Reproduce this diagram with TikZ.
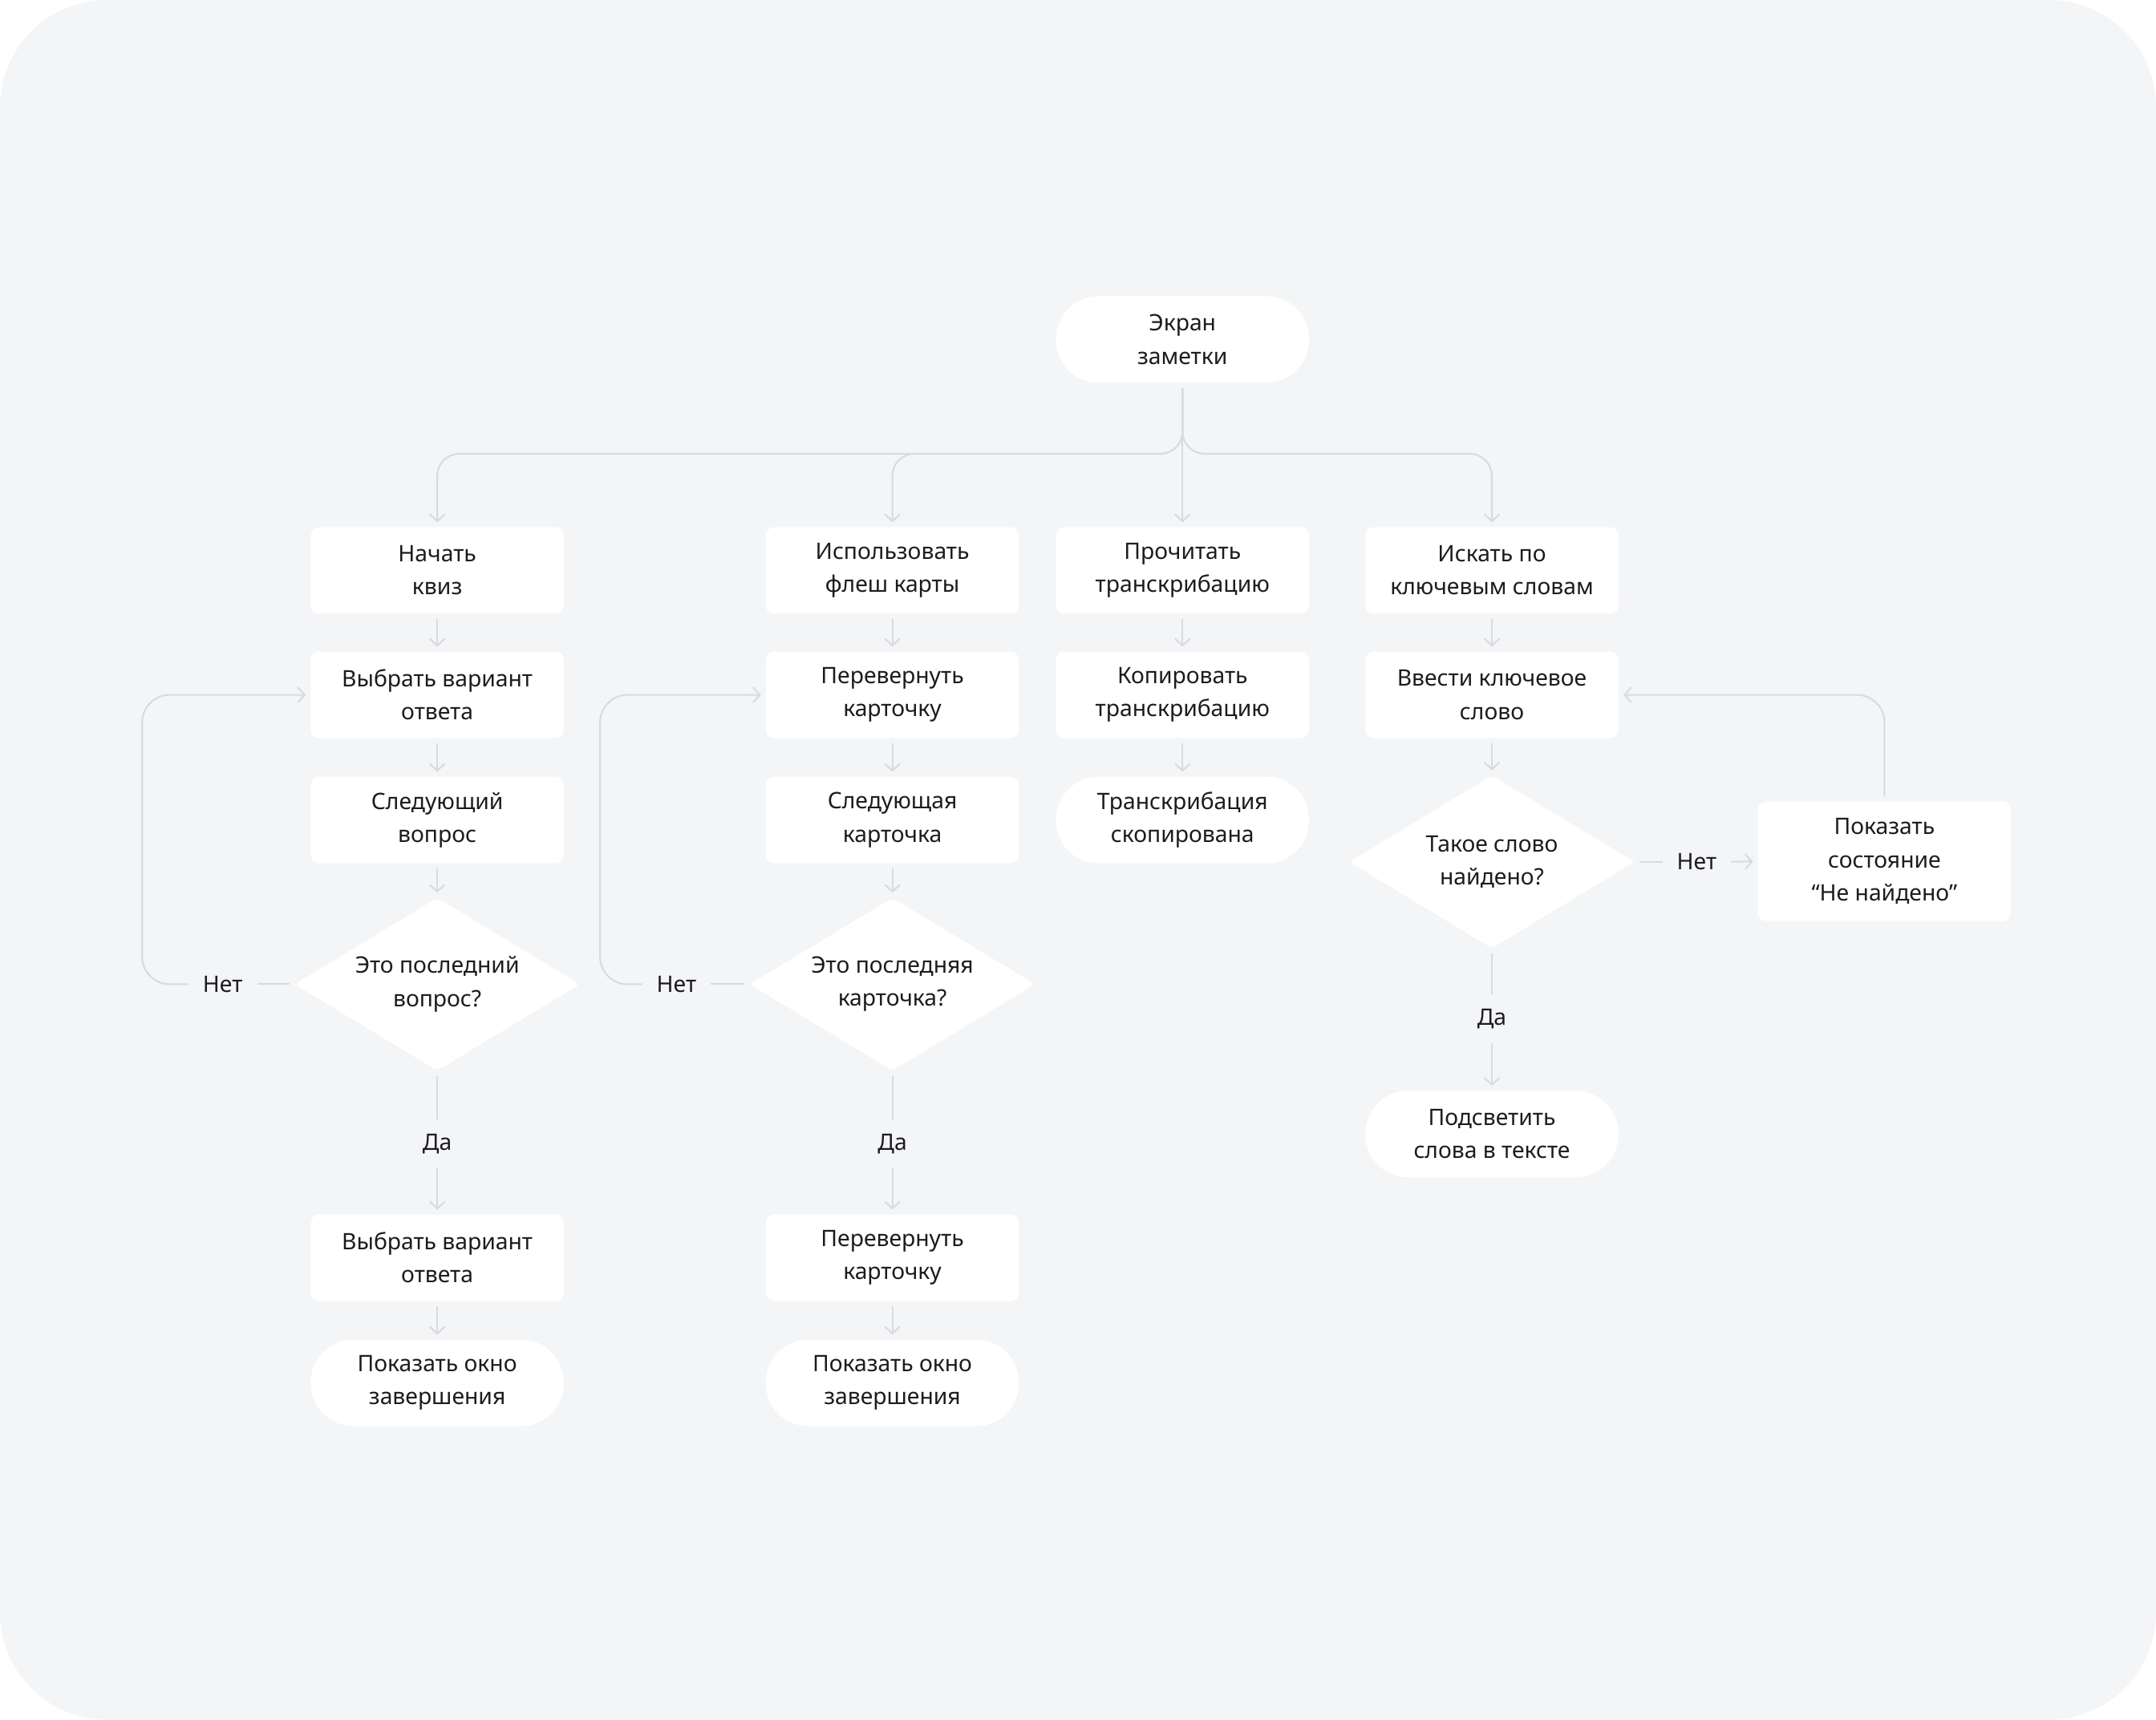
\documentclass[tikz,border=0pt]{standalone}
\usepackage{fontspec}
\setmainfont{Noto Sans}
\usetikzlibrary{shapes.geometric,arrows.meta}

\definecolor{bgcol}{HTML}{F4F5F7}
\definecolor{linecol}{HTML}{D8DAE1}
\definecolor{txtcol}{HTML}{1C1C1F}

\tikzset{every picture/.style={line width=1.2pt}}
\tikzset{
	stepbox/.style={rectangle, rounded corners=6pt, fill=white, draw=none, minimum width=184pt, minimum height=63pt, inner sep=0pt, align=center, text=txtcol, font=\fontsize{16.5}{24}\selectfont},
	endbox/.style={stepbox, rounded corners=31pt},
	askbox/.style={diamond, aspect=1.65, rounded corners=3pt, fill=white, draw=none, minimum width=208pt, minimum height=126pt, inner sep=0pt, align=center, text=txtcol, font=\fontsize{16.5}{24}\selectfont},
	answer/.style={inner sep=7pt, text=txtcol, font=\fontsize{16.5}{24}\selectfont},
	link/.style={draw=linecol, line width=1.2pt, shorten >=3pt, shorten <=3pt, -{Straight Barb[length=5pt,width=11pt,line width=1.2pt]}},
	plain/.style={draw=linecol, line width=1.2pt, shorten <=3pt, shorten >=3pt}
}

\begin{document}
\begin{tikzpicture}[x=1pt,y=1pt,yscale=-1,xscale=1]
	%Background
	\fill [white] (0,0) rectangle (1568,1251);
	\fill [bgcol, rounded corners=78pt] (0,0) rectangle (1568,1251);
	\useasboundingbox (0,0) rectangle (1568,1251);

	%Top node
	\node [endbox] (screen) at (860,247) {Экран\\заметки};

	%Quiz column
	\node [stepbox] (quiz) at (318,415) {Начать\\квиз};
	\node [stepbox] (qpick) at (318,505.5) {Выбрать вариант\\ответа};
	\node [stepbox] (qnext) at (318,596.5) {Следующий\\вопрос};
	\node [askbox] (qlast) at (318,716) {Это последний\\вопрос?};
	\node [answer] (qno) at (162,716) {Нет};
	\node [answer] (qyes) at (318,832) {Да};
	\node [stepbox] (qpick2) at (318,915) {Выбрать вариант\\ответа};
	\node [endbox] (qdone) at (318,1006) {Показать окно\\завершения};

	%Cards column
	\node [stepbox] (cards) at (649,415) {Использовать\\флеш карты};
	\node [stepbox] (cflip) at (649,505.5) {Перевернуть\\карточку};
	\node [stepbox] (cnext) at (649,596.5) {Следующая\\карточка};
	\node [askbox] (clast) at (649,716) {Это последняя\\карточка?};
	\node [answer] (cno) at (492,716) {Нет};
	\node [answer] (cyes) at (649,832) {Да};
	\node [stepbox] (cflip2) at (649,915) {Перевернуть\\карточку};
	\node [endbox] (cdone) at (649,1006) {Показать окно\\завершения};

	%Transcript column
	\node [stepbox] (tread) at (860,415) {Прочитать\\транскрибацию};
	\node [stepbox] (tcopy) at (860,505.5) {Копировать\\транскрибацию};
	\node [endbox] (tdone) at (860,596.5) {Транскрибация\\скопирована};

	%Search column
	\node [stepbox] (search) at (1085,415) {Искать по\\ключевым словам};
	\node [stepbox] (sword) at (1085,505.5) {Ввести ключевое\\слово};
	\node [askbox] (sfound) at (1085,627) {Такое слово\\найдено?};
	\node [answer] (sno) at (1234,627) {Нет};
	\node [stepbox, minimum height=87pt] (snone) at (1370.5,626.5) {Показать\\состояние\\“Не найдено”};
	\node [answer] (syes) at (1085,741) {Да};
	\node [endbox] (slight) at (1085,825) {Подсветить\\слова в тексте};

	%Fork from top node
	\draw [link, rounded corners=16pt] (screen.south) -- ++(0,51) -| (quiz.north);
	\draw [link, rounded corners=16pt] (screen.south) -- ++(0,51) -| (cards.north);
	\draw [link] (screen.south) -- (tread.north);
	\draw [link, rounded corners=16pt] (screen.south) -- ++(0,51) -| (search.north);

	%Quiz links
	\draw [link] (quiz) -- (qpick);
	\draw [link] (qpick) -- (qnext);
	\draw [link] (qnext) -- (qlast);
	\draw [plain] (qlast.west) -- (qno.east);
	\draw [link, rounded corners=20pt] (qno.west) -| ([xshift=-122pt]qpick.west) -- (qpick.west);
	\draw [plain] (qlast.south) -- (qyes.north);
	\draw [link] (qyes.south) -- (qpick2.north);
	\draw [link] (qpick2) -- (qdone);

	%Cards links
	\draw [link] (cards) -- (cflip);
	\draw [link] (cflip) -- (cnext);
	\draw [link] (cnext) -- (clast);
	\draw [plain] (clast.west) -- (cno.east);
	\draw [link, rounded corners=20pt] (cno.west) -| ([xshift=-120pt]cflip.west) -- (cflip.west);
	\draw [plain] (clast.south) -- (cyes.north);
	\draw [link] (cyes.south) -- (cflip2.north);
	\draw [link] (cflip2) -- (cdone);

	%Transcript links
	\draw [link] (tread) -- (tcopy);
	\draw [link] (tcopy) -- (tdone);

	%Search links
	\draw [link] (search) -- (sword);
	\draw [link] (sword) -- (sfound);
	\draw [plain] (sfound.east) -- (sno.west);
	\draw [link] (sno.east) -- (snone.west);
	\draw [link, rounded corners=20pt] (snone.north) |- (sword.east);
	\draw [plain] (sfound.south) -- (syes.north);
	\draw [link] (syes.south) -- (slight.north);

\end{tikzpicture}
\end{document}
